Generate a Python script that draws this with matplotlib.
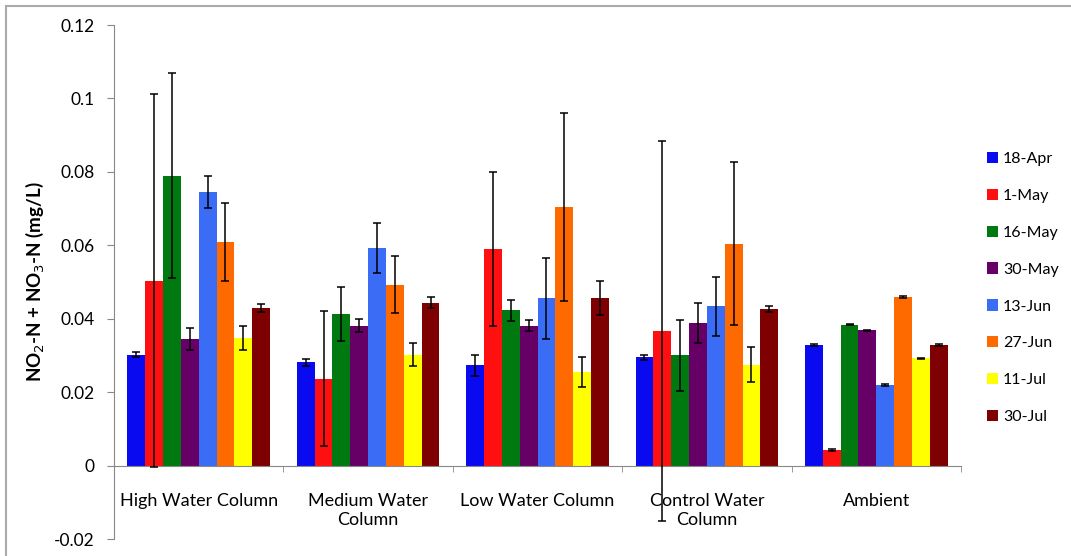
import matplotlib
matplotlib.use("Agg")
import matplotlib.pyplot as plt
from matplotlib.lines import Line2D
import numpy as np

plt.rcParams['font.family'] = ['Lato', 'DejaVu Sans']

groups = ["High Water Column", "Medium Water\nColumn", "Low Water Column",
          "Control Water\nColumn", "Ambient"]
dates = ["18-Apr", "1-May", "16-May", "30-May", "13-Jun", "27-Jun", "11-Jul", "30-Jul"]
colors = ["#0A0AF0", "#FF1010", "#007A10", "#660066", "#3A6CF5", "#FF6A00", "#FFFF00", "#7F0000"]

# mean values, one list per sampling date (High, Medium, Low, Control, Ambient)
means = {
    "18-Apr": [0.0302, 0.0281, 0.0273, 0.0295, 0.0329],
    "1-May":  [0.0503, 0.0236, 0.0590, 0.0367, 0.0042],
    "16-May": [0.0790, 0.0413, 0.0423, 0.0300, 0.0384],
    "30-May": [0.0345, 0.0381, 0.0381, 0.0388, 0.0368],
    "13-Jun": [0.0745, 0.0592, 0.0456, 0.0434, 0.0219],
    "27-Jun": [0.0610, 0.0493, 0.0704, 0.0604, 0.0459],
    "11-Jul": [0.0348, 0.0302, 0.0255, 0.0275, 0.0292],
    "30-Jul": [0.0429, 0.0444, 0.0456, 0.0426, 0.0329],
}
errors = {
    "18-Apr": [0.0007, 0.0010, 0.0029, 0.0007, 0.0002],
    "1-May":  [0.0508, 0.0184, 0.0210, 0.0518, 0.0002],
    "16-May": [0.0280, 0.0073, 0.0028, 0.0096, 0.0002],
    "30-May": [0.0030, 0.0018, 0.0015, 0.0054, 0.0002],
    "13-Jun": [0.0043, 0.0068, 0.0110, 0.0080, 0.0002],
    "27-Jun": [0.0106, 0.0077, 0.0257, 0.0222, 0.0002],
    "11-Jul": [0.0033, 0.0032, 0.0040, 0.0048, 0.0002],
    "30-Jul": [0.0011, 0.0014, 0.0047, 0.0009, 0.0002],
}

fig = plt.figure(figsize=(10.71, 5.56), dpi=100)
ax = fig.add_axes([114/1071, 1 - 539/556, (961 - 114)/1071, (539 - 25)/556])

x = np.arange(len(groups))
width = 1 / 9.5
for i, d in enumerate(dates):
    pos = x + (i - 3.5) * width
    ax.bar(pos, means[d], width, color=colors[i], label=d, zorder=2)
    ax.errorbar(pos, means[d], yerr=errors[d], fmt='none', ecolor='black',
                elinewidth=1.1, capsize=3, capthick=1.1, zorder=3)

ax.set_xlim(-0.5, 4.5)
ax.set_ylim(-0.02, 0.12)
ax.set_yticks([-0.02, 0, 0.02, 0.04, 0.06, 0.08, 0.1, 0.12])
ax.set_yticklabels(["-0.02", "0", "0.02", "0.04", "0.06", "0.08", "0.1", "0.12"])
ax.set_xticks(x)
ax.set_xticklabels(groups, linespacing=1.45)
ax.set_xticks(np.arange(-0.5, 5, 1), minor=True)
ax.tick_params(axis='x', which='major', length=0, pad=20, labelsize=13)
ax.tick_params(axis='x', which='minor', length=4, direction='out', color='#888888')
ax.tick_params(axis='y', length=5, color='#888888', labelsize=12.5, pad=9)

for s in ['top', 'right']:
    ax.spines[s].set_visible(False)
ax.spines['bottom'].set_position(('data', 0))
ax.spines['bottom'].set_color('#888888')
ax.spines['left'].set_color('#888888')

ax.set_ylabel("NO$_2$-N + NO$_3$-N (mg/L)", fontsize=13.5, fontweight='bold', labelpad=6)

fig.legend(loc='center left', bbox_to_anchor=(976/1071, 1 - 288/556), frameon=False,
           handlelength=0.7, handleheight=0.7, handletextpad=0.3, borderpad=0.2,
           labelspacing=1.42, fontsize=11.5)

# outer chart border (top and left edges visible)
fig.add_artist(Line2D([6/1071, 1], [1 - 6/556, 1 - 6/556], transform=fig.transFigure,
                      color='#aaaaaa', lw=1.5))
fig.add_artist(Line2D([6/1071, 6/1071], [0, 1 - 6/556], transform=fig.transFigure,
                      color='#aaaaaa', lw=1.5))

fig.savefig("out.png", dpi=100)
